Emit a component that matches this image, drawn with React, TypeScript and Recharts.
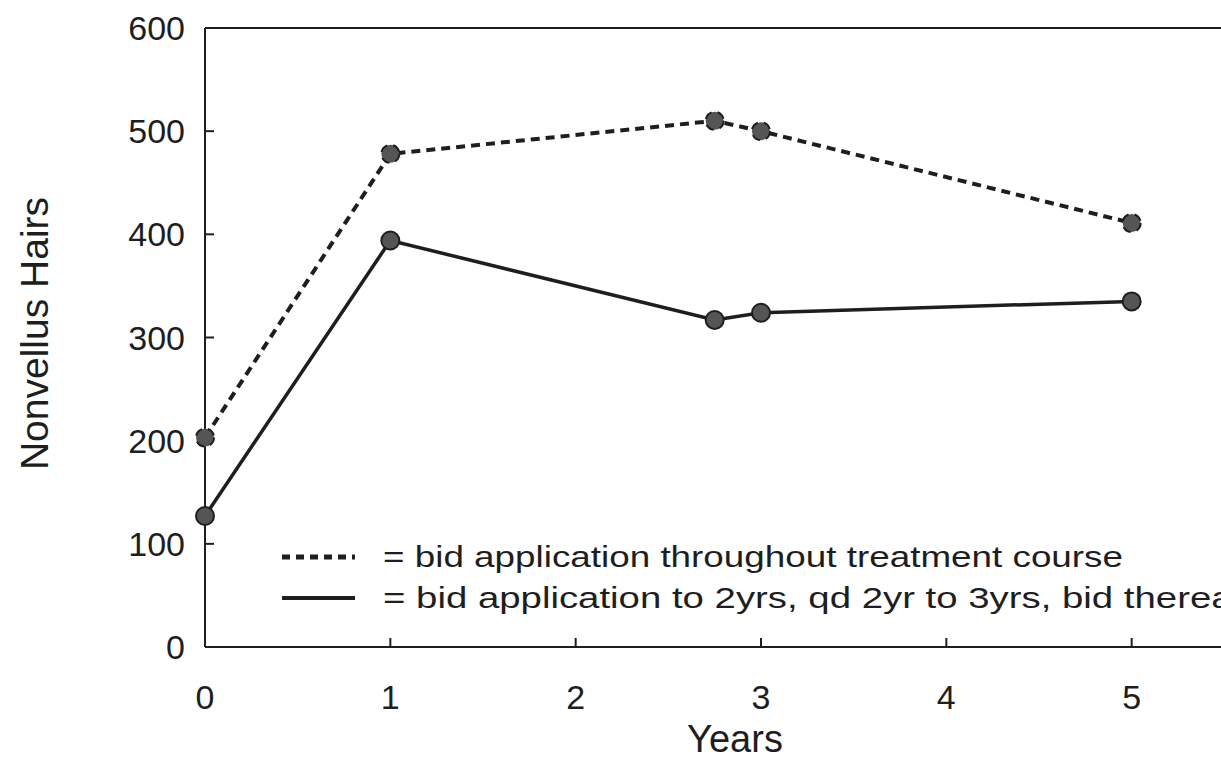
import { LineChart, Line, XAxis, YAxis, ReferenceLine, Label } from 'recharts';

const YEARS = [0, 1, 2.75, 3, 5];
const BID_THROUGHOUT = [203, 478, 510, 500, 411];
const BID_QD_BID = [127, 394, 317, 324, 335];
const X_TICKS = [0, 1, 2, 3, 4, 5];
const Y_TICKS = [0, 100, 200, 300, 400, 500, 600];

const LEGEND_ITEMS = [
  { key: 'throughout', dash: '8 6', text: '= bid application throughout treatment course' },
  { key: 'qd', dash: undefined, text: '= bid application to 2yrs, qd 2yr to 3yrs, bid thereafter' },
];

const rows = YEARS.map((year, i) => ({
  year,
  throughout: BID_THROUGHOUT[i],
  qd: BID_QD_BID[i],
}));

const INK = '#1e1e1e';
const FONT = '"Liberation Sans", Arial, Helvetica, sans-serif';

// legend sits inside the plot, lines + "= ..." text like the original figure
function FigureLegend() {
  return (
    <svg width={1000} height={90} style={{ overflow: 'visible' }}>
      {LEGEND_ITEMS.map((item, i) => (
        <g key={item.key} transform={`translate(0, ${22 + i * 41})`}>
          <line x1={7} x2={80} y1={0} y2={0} stroke={INK} strokeWidth={item.dash ? 5 : 4} strokeDasharray={item.dash} />
          <text x={108} y={10} fontSize={29} fill={INK} fontFamily={FONT} textLength={item.key === 'qd' ? 905 : 740} lengthAdjust="spacingAndGlyphs">
            {item.text}
          </text>
        </g>
      ))}
    </svg>
  );
}

export default function App() {
  const dot = { r: 9, fill: '#555', stroke: INK, strokeWidth: 2 };
  return (
    <div style={{ position: 'absolute', left: 0, top: 0, width: 1221, height: 768, overflow: 'hidden', background: '#fff' }}>
      <LineChart width={1330} height={768} data={rows} margin={{ top: 28, right: 13, left: 0, bottom: 0 }}>
        <XAxis
          dataKey="year"
          type="number"
          domain={[0, 6]}
          ticks={X_TICKS}
          height={121}
          tickSize={-9}
          tickMargin={47}
          axisLine={{ stroke: INK, strokeWidth: 2 }}
          tickLine={{ stroke: INK, strokeWidth: 2 }}
          tick={{ fontSize: 34, fill: INK, fontFamily: FONT }}
        >
          <Label value="Years" position="insideBottom" offset={16} dx={-26} style={{ fontSize: 38, fill: INK, fontFamily: FONT }} />
        </XAxis>
        <YAxis
          type="number"
          domain={[0, 600]}
          ticks={Y_TICKS}
          width={205}
          tickSize={-9}
          tickMargin={29}
          axisLine={{ stroke: INK, strokeWidth: 2 }}
          tickLine={{ stroke: INK, strokeWidth: 2 }}
          tick={{ fontSize: 34, fill: INK, fontFamily: FONT }}
        >
          <Label value="Nonvellus Hairs" angle={-90} position="insideLeft" offset={34} dy={-4} style={{ fontSize: 39, fill: INK, fontFamily: FONT, textAnchor: 'middle' }} />
        </YAxis>
        <ReferenceLine y={600} stroke={INK} strokeWidth={2} />
        <Line
          dataKey="throughout"
          stroke={INK}
          strokeWidth={4}
          strokeDasharray="9 6"
          dot={dot}
          activeDot={false}
          isAnimationActive={false}
        />
        <Line
          dataKey="qd"
          stroke={INK}
          strokeWidth={3.5}
          dot={dot}
          activeDot={false}
          isAnimationActive={false}
        />
      </LineChart>
      <div style={{ position: 'absolute', left: 275, top: 535 }}>
        <FigureLegend />
      </div>
    </div>
  );
}
